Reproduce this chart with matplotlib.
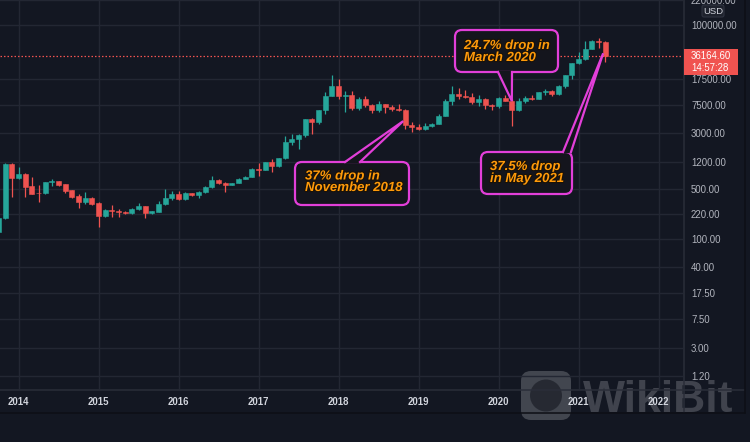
import matplotlib
matplotlib.use("Agg")
import matplotlib.pyplot as plt
import matplotlib.transforms as mtransforms
import matplotlib.patheffects as pe
from matplotlib.patches import FancyBboxPatch, Rectangle, Polygon, Circle
from matplotlib.lines import Line2D
from matplotlib.ticker import NullLocator
import numpy as np
import pandas as pd

plt.rcParams['font.family'] = ['Liberation Sans', 'DejaVu Sans']

# ---------------- data (monthly BTC/USD candles) ----------------
months = pd.period_range('2013-10', '2021-05', freq='M')
opens = [125, 196, 1127,
         712, 800, 545, 443, 438, 625, 645, 580, 478, 394, 326, 378,
         320, 208, 252, 244, 237, 229, 263, 285, 229, 236, 311, 376,
         429, 358, 438, 407, 452, 532, 662, 608, 565, 610, 698, 742,
         962, 925, 1190, 1040, 1350, 2300, 2470, 2875, 4750, 4330, 6450, 9950,
         13900, 10100, 10330, 6900, 9240, 7490, 6390, 7730, 7020, 6630, 6300, 3950,
         3700, 3420, 3830, 4100, 5330, 8550, 10800, 10080, 9600, 8300, 9150, 7550,
         7200, 9350, 8540, 6420, 8630, 9450, 9140, 11350, 11650, 10780, 13800, 19700,
         29000, 33100, 45200, 58800, 57700]
highs = [200, 1160, 1150,
         1010, 840, 730, 560, 630, 690, 655, 592, 485, 420, 455, 385,
         325, 260, 295, 262, 247, 267, 317, 290, 248, 335, 505, 462,
         462, 448, 440, 462, 545, 770, 698, 618, 615, 712, 755, 975,
         1150, 1210, 1300, 1360, 2760, 2980, 2920, 4750, 4980, 6470, 11350, 19500,
         17200, 11780, 11700, 9760, 10000, 7760, 8500, 7760, 7400, 7680, 6590, 4300,
         4100, 4200, 4150, 5600, 9100, 13880, 13200, 12300, 10900, 10350, 9500, 7750,
         9570, 10500, 9180, 9470, 10080, 10400, 11450, 12490, 12070, 14100, 19900, 29300,
         41900, 58300, 61700, 64800, 59500]
lows = [100, 190, 380,
        700, 390, 420, 330, 420, 550, 555, 445, 368, 272, 305, 295,
        147, 200, 203, 203, 222, 221, 255, 195, 225, 235, 300, 350,
        346, 355, 395, 375, 440, 520, 590, 460, 560, 600, 680, 740,
        750, 910, 860, 1030, 1320, 2050, 1800, 2700, 2980, 4100, 5600, 9900,
        9000, 5900, 6400, 6430, 7040, 5750, 6070, 5880, 6100, 6200, 3500, 3130,
        3350, 3380, 3700, 4050, 5330, 7450, 9100, 9400, 7700, 7300, 6500, 6430,
        6850, 8450, 3860, 6150, 8110, 8900, 8980, 10530, 9880, 10400, 13200, 17600,
        28100, 32300, 45000, 47000, 30000]
closes = [196, 1127, 712,
          800, 535, 430, 438, 625, 645, 575, 465, 388, 330, 378, 311,
          210, 252, 244, 237, 229, 263, 285, 231, 244, 311, 376, 429,
          358, 438, 407, 452, 532, 670, 608, 565, 610, 698, 742, 962,
          925, 1190, 1040, 1350, 2300, 2470, 2875, 4750, 4330, 6450, 9950, 13900,
          10100, 10330, 6900, 9240, 7490, 6390, 7730, 7020, 6630, 6300, 3950, 3700,
          3420, 3830, 4100, 5330, 8550, 10800, 10080, 9600, 8300, 9150, 7550, 7200,
          9350, 8540, 6420, 8630, 9450, 9140, 11350, 11650, 10780, 13800, 19700, 29000,
          33100, 45200, 58800, 57700, 36164.60]

price_ticks = [1.2, 3, 7.5, 17.5, 40, 100, 220, 500, 1200, 3000, 7500, 17500, 100000, 220000]
year_ticks = [2014, 2015, 2016, 2017, 2018, 2019, 2020, 2021, 2022]
currency = 'USD'
bar_timer = '14:57:28'
callout_lines = [("37% drop in", "November 2018"),
                 ("24.7% drop in", "March 2020"),
                 ("37.5% drop", "in May 2021")]
callout_months = ['2018-11', '2020-03', '2021-05']

# ---------------- style ----------------
BG = '#131722'
GRID = '#232733'
SEP = '#2a2e39'
GREEN = '#26a69a'
RED = '#ef5350'
MAG = '#e23fd9'
ORANGE = '#ff9a0a'
BOXBG = '#14151d'

W, H = 750, 442
fig = plt.figure(figsize=(W / 100, H / 100), dpi=100, facecolor=BG)
ax = fig.add_axes([0, (H - 389) / H, 683 / W, 389 / H])
ax.patch.set_alpha(0.0)
PX = mtransforms.Affine2D().scale(1 / W, -1 / H).translate(0, 1) + fig.transFigure

# month index relative to Jan 2014
def midx(p):
    return (p.year - 2014) * 12 + p.month - 1

x = np.array([midx(p) for p in months])
o, h, l, c = map(np.asarray, (opens, highs, lows, closes))
col = np.where(c >= o, GREEN, RED)

ax.vlines(x, l, h, colors=col, lw=0.9, zorder=3)
ax.bar(x, np.abs(c - o), bottom=np.minimum(o, c), width=0.76, color=col,
       edgecolor=col, linewidth=0.4, zorder=4)

ax.set_yscale('log')
ax.set_xlim(-2.775, 99.675)
ax.set_ylim(0.789, 222000)

ax.yaxis.tick_right()
ax.set_yticks(price_ticks)
ax.set_yticklabels([f'{v:.2f}' for v in price_ticks])
ax.yaxis.set_minor_locator(NullLocator())
ax.set_xticks([(y - 2014) * 12 for y in year_ticks])
ax.set_xticklabels([str(y) for y in year_ticks], fontweight='bold')
ax.tick_params(axis='y', length=0, pad=5.8, labelsize=6.9, labelcolor='#b2b5be')
ax.tick_params(axis='x', length=0, pad=5.6, labelsize=6.9, labelcolor='#d1d4dc')
ax.grid(True, color=GRID, lw=1)
ax.set_axisbelow(True)
for s in ax.spines.values():
    s.set_visible(False)

# last price dotted line
ax.axhline(c[-1], color=RED, lw=0.9, ls=(0, (1.2, 1.6)), zorder=2)

# separators / frame
for xs, ys, cc in [([683.5, 683.5], [0, 412], SEP),
                   ([0, 744], [389.5, 389.5], SEP),
                   ([0, 744.5], [412.5, 412.5], '#0d0f15'),
                   ([744.5, 744.5], [0, 412.5], '#0d0f15')]:
    fig.add_artist(Line2D(xs, ys, transform=PX, color=cc, lw=1.1))

def to_px(xd, yd):
    d = ax.transData.transform((xd, yd))
    return PX.inverted().transform(d)

# last price label
_, py = to_px(x[-1], c[-1])
fig.add_artist(Rectangle((683.5, py - 7.5), 54, 26, transform=PX, fc='#f05350', ec='none', zorder=15))
fig.text(691, py, f'{c[-1]:.2f}', transform=PX, ha='left', va='center', fontsize=6.9,
         color='white', zorder=16)
fig.text(691, py + 11.5, bar_timer, transform=PX, ha='left', va='center', fontsize=6.9,
         color='white', zorder=16)

# currency badge
fig.add_artist(FancyBboxPatch((702, 5), 22, 12, boxstyle='round,pad=0,rounding_size=2',
                              transform=PX, fc='#1e222d', ec='#2f3340', lw=0.8, zorder=15))
fig.text(713, 11.3, currency, transform=PX, ha='center', va='center', fontsize=6.8,
         color='#d1d4dc', zorder=16)

# callouts
box_geo = [
    # (x0, y0, x1, y1), tail base xs, side, baselines, text x, tip offset (months, price factor)
    ((295, 162, 409, 205), (345, 360), 'top', (179.5, 191.0), 305, (-0.3, 1.13)),
    ((455, 30, 558, 72), (498, 512), 'bottom', (49.0, 61.0), 464, (0.0, 1.0)),
    ((481, 152, 572, 194), (563, 571), 'top', (170.0, 182.0), 490, (-0.3, 1.10)),
]
fx = [pe.withStroke(linewidth=1.6, foreground='#1a1208')]
for (lines, mstr, geo) in zip(callout_lines, callout_months, box_geo):
    (x0, y0, x1, y1), base, side, bls, tx, (dm, fp) = geo
    i = list(months.astype(str)).index(mstr)
    tip = to_px(x[i] + dm, max(o[i], c[i]) * fp if fp == 1.0 else c[i] * fp)
    fig.add_artist(FancyBboxPatch((x0, y0), x1 - x0, y1 - y0,
                                  boxstyle='round,pad=0,rounding_size=7', transform=PX,
                                  fc=BOXBG, ec=MAG, lw=1.6, zorder=10))
    yb = y0 + 1.2 if side == 'top' else y1 - 1.2
    yb_edge = y0 if side == 'top' else y1
    fig.add_artist(Polygon([(base[0], yb), tuple(tip), (base[1], yb)], closed=True,
                           transform=PX, fc=BOXBG, ec='none', zorder=11))
    fig.add_artist(Line2D([base[0], tip[0], base[1]], [yb_edge, tip[1], yb_edge],
                          transform=PX, color=MAG, lw=1.6, zorder=12,
                          solid_joinstyle='miter'))
    for s, bl in zip(lines, bls):
        fig.text(tx, bl, s, transform=PX, ha='left', va='baseline', fontsize=9.5,
                 fontweight='bold', fontstyle='italic', color=ORANGE, zorder=13,
                 path_effects=fx)

# watermark (beneath the axes so the year labels stay on top)
fig.add_artist(FancyBboxPatch((521, 371), 50, 49, boxstyle='round,pad=0,rounding_size=10',
                              transform=PX, fc='#8a8d94', ec='none', alpha=0.4, zorder=-2))
fig.add_artist(Circle((546, 395.5), 16, transform=PX, fc='#1b1e27', ec='none',
                      alpha=0.7, zorder=-1))
fig.text(583, 411.5, 'WikiBit', transform=PX, ha='left', va='baseline', fontsize=32,
         fontweight='bold', color='#8a8d94', alpha=0.38, zorder=-2)

fig.savefig('out.png', dpi=100, facecolor=BG)
